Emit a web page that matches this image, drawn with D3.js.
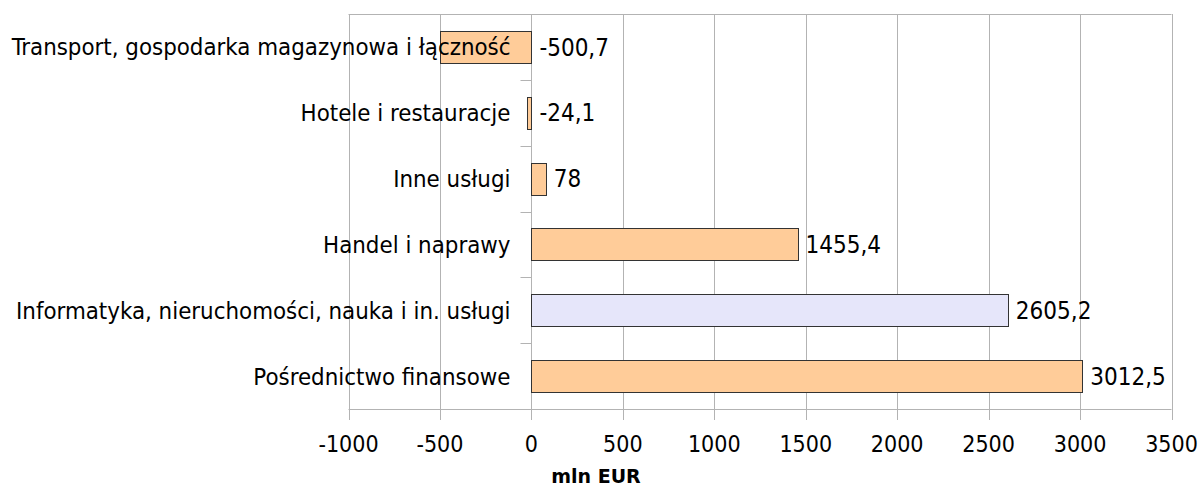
<!DOCTYPE html>
<html><head><meta charset="utf-8">
<script src="https://cdn.jsdelivr.net/npm/d3@7"></script>
<style>body{margin:0;background:#fff}svg{display:block}text{font-family:"DejaVu Sans Condensed","DejaVu Sans",sans-serif}</style>
</head><body>
<svg id="c" width="1202" height="489"></svg>
<script>
const categories = ["Transport, gospodarka magazynowa i łączność","Hotele i restauracje","Inne usługi","Handel i naprawy","Informatyka, nieruchomości, nauka i in. usługi","Pośrednictwo finansowe"];
const values = [-500.7,-24.1,78,1455.4,2605.2,3012.5];
const barColors = ["#ffcc99","#ffcc99","#ffcc99","#ffcc99","#e6e6fa","#ffcc99"];
const tickValues = [-1000,-500,0,500,1000,1500,2000,2500,3000,3500];
const axisTitle = "mln EUR";

const svg = d3.select("#c");
const L=348.5, R=1171.5, T=14, B=409;
const x = d3.scaleLinear().domain([-1000,3500]).range([L,R]);
const y = d3.scaleBand().domain(categories).range([T,B]).paddingInner(0.515).paddingOuter(0.2575);
const band = (B-T)/categories.length;
const grid = "#b3b3b3";

svg.append("g").selectAll("line").data(tickValues).join("line")
  .attr("x1",d=>Math.round(x(d))+0.5).attr("x2",d=>Math.round(x(d))+0.5)
  .attr("y1",T).attr("y2",B+11).attr("stroke",grid).attr("stroke-width",1);
svg.append("line").attr("x1",L).attr("x2",R).attr("y1",T+0.5).attr("y2",T+0.5).attr("stroke",grid);
svg.append("line").attr("x1",L).attr("x2",R).attr("y1",B+0.5).attr("y2",B+0.5).attr("stroke",grid);
const x0 = Math.round(x(0))+0.5;
svg.append("g").selectAll("line").data(d3.range(categories.length+1)).join("line")
  .attr("x1",x0-11).attr("x2",x0).attr("y1",i=>Math.round(T+i*band)+0.5).attr("y2",i=>Math.round(T+i*band)+0.5)
  .attr("stroke",grid);

svg.append("g").selectAll("rect").data(values).join("rect")
  .attr("x",(d)=>Math.round(x(Math.min(0,d)))+0.5)
  .attr("width",d=>Math.max(1,Math.abs(Math.round(x(d))-Math.round(x(0)))))
  .attr("y",(d,i)=>Math.round(y(categories[i]))+0.5).attr("height",Math.round(y.bandwidth()))
  .attr("fill",(d,i)=>barColors[i]).attr("stroke","#333").attr("stroke-width",1);

svg.append("g").selectAll("text").data(categories).join("text")
  .attr("x",x0-21).attr("y",d=>y(d)+y.bandwidth()/2).attr("dy","0.36em")
  .attr("text-anchor","end").attr("font-size",23.8).attr("fill","#000").text(d=>d);

svg.append("g").selectAll("text").data(values).join("text")
  .attr("x",d=>x(Math.max(0,d))+8).attr("y",(d,i)=>y(categories[i])+y.bandwidth()/2).attr("dy","0.36em")
  .attr("font-size",24).attr("fill","#000").text(d=>String(d).replace(".",","));

svg.append("g").selectAll("text").data(tickValues).join("text")
  .attr("x",d=>x(d)).attr("y",452).attr("text-anchor","middle")
  .attr("font-size",23).attr("fill","#000").text(d=>d);

svg.append("text").attr("x",596).attr("y",483).attr("text-anchor","middle")
  .style("font-family","'DejaVu Sans',sans-serif")
  .attr("font-size",19).attr("font-weight","bold").text(axisTitle);
</script>
</body></html>
